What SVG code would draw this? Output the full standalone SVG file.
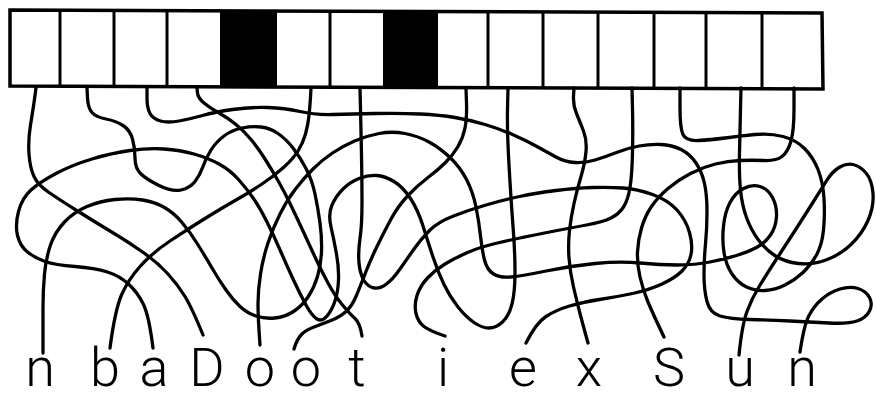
<svg xmlns="http://www.w3.org/2000/svg" width="876" height="399" viewBox="0 0 876 399">
<style>
.s{fill:none;stroke:#000;stroke-width:3.3;stroke-linecap:round;stroke-linejoin:round}
.box{fill:#fff;stroke:#000;stroke-width:3.5;stroke-linejoin:miter}
.div{stroke:#000;stroke-width:3}
.blk{fill:#000}
.lbl{font-family:Roboto,"Liberation Sans",sans-serif;font-weight:300;font-size:54px;fill:#000;text-anchor:middle}
</style>
<rect width="876" height="399" fill="#fff"/>
<g id="strip">
<polygon class="box" points="10,10 822,13 823,89 10,86"/>
<polygon class="blk" points="220,10.8 277,11 277,87 220,86.8"/>
<polygon class="blk" points="383,11.4 438,11.6 438,87.6 383,87.4"/>
<line class="div" x1="60" y1="10.2" x2="60" y2="86.2"/>
<line class="div" x1="114" y1="10.4" x2="114" y2="86.4"/>
<line class="div" x1="167" y1="10.6" x2="167" y2="86.6"/>
<line class="div" x1="330" y1="11.2" x2="330" y2="87.2"/>
<line class="div" x1="488" y1="11.8" x2="488" y2="87.8"/>
<line class="div" x1="543" y1="12" x2="543" y2="88"/>
<line class="div" x1="598" y1="12.2" x2="598" y2="88.2"/>
<line class="div" x1="654" y1="12.4" x2="654" y2="88.4"/>
<line class="div" x1="706" y1="12.6" x2="706" y2="88.6"/>
<line class="div" x1="762" y1="12.8" x2="762" y2="88.8"/>
</g>
<g id="connectors">
<path id="c1" class="s" d="M36,88 L34.5,99 Q33,110 30.5,125 Q28,140 29,154 Q30,168 34,176.5 Q38,185 49,192.5 Q60,200 77.5,211 Q95,222 112.5,232.5 Q130,243 144,253 Q158,263 168,274 Q178,285 185,296.5 Q192,308 203,335"/>
<path id="c2" class="s" d="M87,88 L87.5,98 Q88,108 92,112.5 Q96,117 106,119 Q116,121 123,125.5 Q130,130 132.5,139 Q135,148 135,158 Q135,168 140.5,173.5 Q146,179 159,185.5 Q172,192 181,190 Q190,188 195,181.5 Q200,175 203,166.5 Q206,158 211,150 Q216,142 224,136 Q232,130 242,128 Q252,126 261,127 Q270,128 278,133.5 Q286,139 293,148 Q300,157 306,168.5 Q312,180 315,194 Q318,208 320,223 Q322,238 321.5,251.5 Q321,265 317.5,276.5 Q314,288 308,297 Q302,306 293.5,311.5 Q285,317 275,318 Q265,319 256,316 Q247,313 240,306.5 Q233,300 226,290 Q219,280 212,268 Q205,256 197.5,244 Q190,232 182,222.5 Q174,213 164.5,207.5 Q155,202 142.5,200 Q130,198 115,199.5 Q100,201 87,206.5 Q74,212 64.5,222 Q55,232 50.5,245 Q46,258 44.5,274 Q43,290 43,307.5 Q43,325 43,353"/>
<path id="c3" class="s" d="M147,88 L147,98 Q147,108 150,113.5 Q153,119 160.5,121 Q168,123 179,121 Q190,119 202.5,115.5 Q215,112 232.5,109.5 Q250,107 267.5,107.5 Q285,108 300,111.5 Q315,115 332.5,114.5 Q350,114 375,113.5 Q400,113 420,114 Q440,115 455,117.5 Q470,120 485,124.5 Q500,129 512.5,134.5 Q525,140 536,146 Q547,152 556,157 Q565,162 575,162.5 Q585,163 595,160 Q605,157 616.5,152.5 Q628,148 639,146 Q650,144 661,144.5 Q672,145 681,149.5 Q690,154 696,163 Q702,172 704.5,183.5 Q707,195 707,211.5 Q707,228 705.5,244 Q704,260 704,275 Q704,290 707,301.5 Q710,313 720,316 Q730,319 750,319.5 Q770,320 790,321 Q810,322 829,323 Q848,324 857,321 Q866,318 869.5,311 Q873,304 869.5,297.5 Q866,291 858,288.5 Q850,286 840,289 Q830,292 822,299 Q814,306 809,315.5 Q804,325 800,352"/>
<path id="c4" class="s" d="M197,88 L197.5,93 Q198,98 204,103 Q210,108 219,113 Q228,118 236,124.5 Q244,131 251,139.5 Q258,148 265,159 Q272,170 278.5,181.5 Q285,193 291,205.5 Q297,218 303,231 Q309,244 315,257 Q321,270 328,283 Q335,296 342.5,305 Q350,314 355,318.5 Q360,323 362,336"/>
<path id="c5" class="s" d="M311,88 L310.5,97 Q310,106 309,115.5 Q308,125 305.5,134 Q303,143 298,151 Q293,159 283.5,167.5 Q274,176 262,184 Q250,192 236,200 Q222,208 205,218.5 Q188,229 170,241 Q152,253 140,266.5 Q128,280 121.5,295 Q115,310 110,348"/>
<path id="c6" class="s" d="M360,88 L360.5,109 Q361,130 361.5,155 Q362,180 362,202.5 Q362,225 360,238.5 Q358,252 359,263 Q360,274 364,280.5 Q368,287 374,288 Q380,289 386.5,284 Q393,279 400,269 Q407,259 414,249 Q421,239 429.5,230.5 Q438,222 453.5,216 Q469,210 486,205 Q503,200 519.5,196.5 Q536,193 556,190.5 Q576,188 592.5,187.5 Q609,187 623,188 Q637,189 652.5,194.5 Q668,200 677,210 Q686,220 689.5,232.5 Q693,245 691,254.5 Q689,264 682,271 Q675,278 662,284 Q649,290 632.5,293.5 Q616,297 599.5,299.5 Q583,302 569.5,306 Q556,310 546,316.5 Q536,323 526,343"/>
<path id="c7" class="s" d="M466,88 L466.5,103 Q467,118 465,128 Q463,138 458,146.5 Q453,155 445.5,162.5 Q438,170 428,177.5 Q418,185 408,195.5 Q398,206 390.5,220 Q383,234 376.5,247.5 Q370,261 365,274 Q360,287 356,296.5 Q352,306 346,311.5 Q340,317 331,320.5 Q322,324 314,327 Q306,330 301.5,334.5 Q297,339 294,349"/>
<path id="c8" class="s" d="M508,88 L507.5,109 Q507,130 509,165 Q511,200 513,226 Q515,252 515,272 Q515,292 512,304 Q509,316 502.5,322 Q496,328 489,328 Q482,328 474,322.5 Q466,317 458,307 Q450,297 444,284.5 Q438,272 433,257 Q428,242 423,226 Q418,210 410.5,198.5 Q403,187 394,181.5 Q385,176 376.5,175.5 Q368,175 359,178.5 Q350,182 343,189 Q336,196 332,205 Q328,214 331,227 Q334,240 336.5,254 Q339,268 338.5,280 Q338,292 335,301 Q332,310 327,316 Q322,322 317,319 Q312,316 306,305 Q300,294 293.5,280 Q287,266 280.5,251 Q274,236 267,222 Q260,208 253.5,198.5 Q247,189 238.5,179.5 Q230,170 219,164 Q208,158 194,154 Q180,150 164,149 Q148,148 130,150.5 Q112,153 92,159 Q72,165 56,173.5 Q40,182 31,190 Q22,198 18.5,211.5 Q15,225 17.5,235.5 Q20,246 27.5,252 Q35,258 45,261.5 Q55,265 75,266.5 Q95,268 107.5,272 Q120,276 129,284.5 Q138,293 143.5,304.5 Q149,316 153,348"/>
<path id="c9" class="s" d="M574,88 L573.5,96.5 Q573,105 576.5,113.5 Q580,122 583.5,131 Q587,140 586,151.5 Q585,163 581,176.5 Q577,190 574,203.5 Q571,217 569.5,230.5 Q568,244 569,258 Q570,272 573.5,287 Q577,302 580,313.5 Q583,325 588,343"/>
<path id="c10" class="s" d="M632,88 L632.5,109 Q633,130 632.5,152.5 Q632,175 630,187.5 Q628,200 623.5,207 Q619,214 611,218 Q603,222 586.5,225 Q570,228 544.5,233 Q519,238 499.5,242.5 Q480,247 467.5,252.5 Q455,258 445,264 Q435,270 427.5,278 Q420,286 417,295.5 Q414,305 416,313.5 Q418,322 424,326.5 Q430,331 445,336"/>
<path id="c11" class="s" d="M680,88 L680,108 Q680,128 683,134.5 Q686,141 698,140.5 Q710,140 725,138 Q740,136 755,134.5 Q770,133 783,136.5 Q796,140 804.5,148.5 Q813,157 818,169.5 Q823,182 824,198.5 Q825,215 823.5,230 Q822,245 816.5,255 Q811,265 803,272.5 Q795,280 785,285 Q775,290 765,290.5 Q755,291 746.5,287 Q738,283 732,274 Q726,265 724,252.5 Q722,240 723.5,226 Q725,212 730,202.5 Q735,193 743.5,188.5 Q752,184 760,186.5 Q768,189 772.5,197.5 Q777,206 776.5,216.5 Q776,227 770.5,235 Q765,243 756.5,247.5 Q748,252 736.5,255.5 Q725,259 710,262 Q695,265 677.5,265 Q660,265 640,263 Q620,261 595,263.5 Q570,266 546,271 Q522,276 511,277 Q500,278 493.5,274 Q487,270 484.5,260 Q482,250 480.5,236 Q479,222 476,207 Q473,192 466.5,179.5 Q460,167 450,157.5 Q440,148 429,142 Q418,136 405,133.5 Q392,131 379,133.5 Q366,136 354.5,141 Q343,146 332.5,153 Q322,160 313,169 Q304,178 295.5,189 Q287,200 280,214 Q273,228 268,243 Q263,258 260.5,274 Q258,290 258,304 Q258,318 260,345"/>
<path id="c12" class="s" d="M741,88 L740.5,109 Q740,130 739.5,152.5 Q739,175 740.5,190 Q742,205 746.5,217.5 Q751,230 758.5,240 Q766,250 775.5,256 Q785,262 798.5,263.5 Q812,265 826,260 Q840,255 851,244.5 Q862,234 868,220.5 Q874,207 873,193.5 Q872,180 866,173 Q860,166 853,164.5 Q846,163 839,167.5 Q832,172 827,180 Q822,188 813.5,201.5 Q805,215 796,229 Q787,243 777.5,257.5 Q768,272 760,285 Q752,298 747,311.5 Q742,325 739,355"/>
<path id="c13" class="s" d="M794,88 L794,109 Q794,130 791,141 Q788,152 782,156.5 Q776,161 764,160.5 Q752,160 740,160.5 Q728,161 715.5,164 Q703,167 690.5,173.5 Q678,180 668,188.5 Q658,197 651.5,206.5 Q645,216 641.5,228 Q638,240 637.5,252 Q637,264 640,277 Q643,290 648,302 Q653,314 664,337"/>
</g>
<g id="labels">
<g id="l1"><text class="lbl" x="40" y="386">n</text></g>
<g id="l2"><text class="lbl" x="105" y="386">b</text></g>
<g id="l3"><text class="lbl" x="154" y="386">a</text></g>
<g id="l4"><text class="lbl" x="207" y="386">D</text></g>
<g id="l5"><text class="lbl" x="260" y="386">o</text></g>
<g id="l6"><text class="lbl" x="306" y="386">o</text></g>
<g id="l7"><text class="lbl" x="357" y="386">t</text></g>
<g id="l8"><text class="lbl" x="443" y="386">i</text></g>
<g id="l9"><text class="lbl" x="523" y="386">e</text></g>
<g id="l10"><text class="lbl" x="589" y="386">x</text></g>
<g id="l11"><text class="lbl" x="669" y="386">S</text></g>
<g id="l12"><text class="lbl" x="740" y="386">u</text></g>
<g id="l13"><text class="lbl" x="802" y="386">n</text></g>
</g>
</svg>
